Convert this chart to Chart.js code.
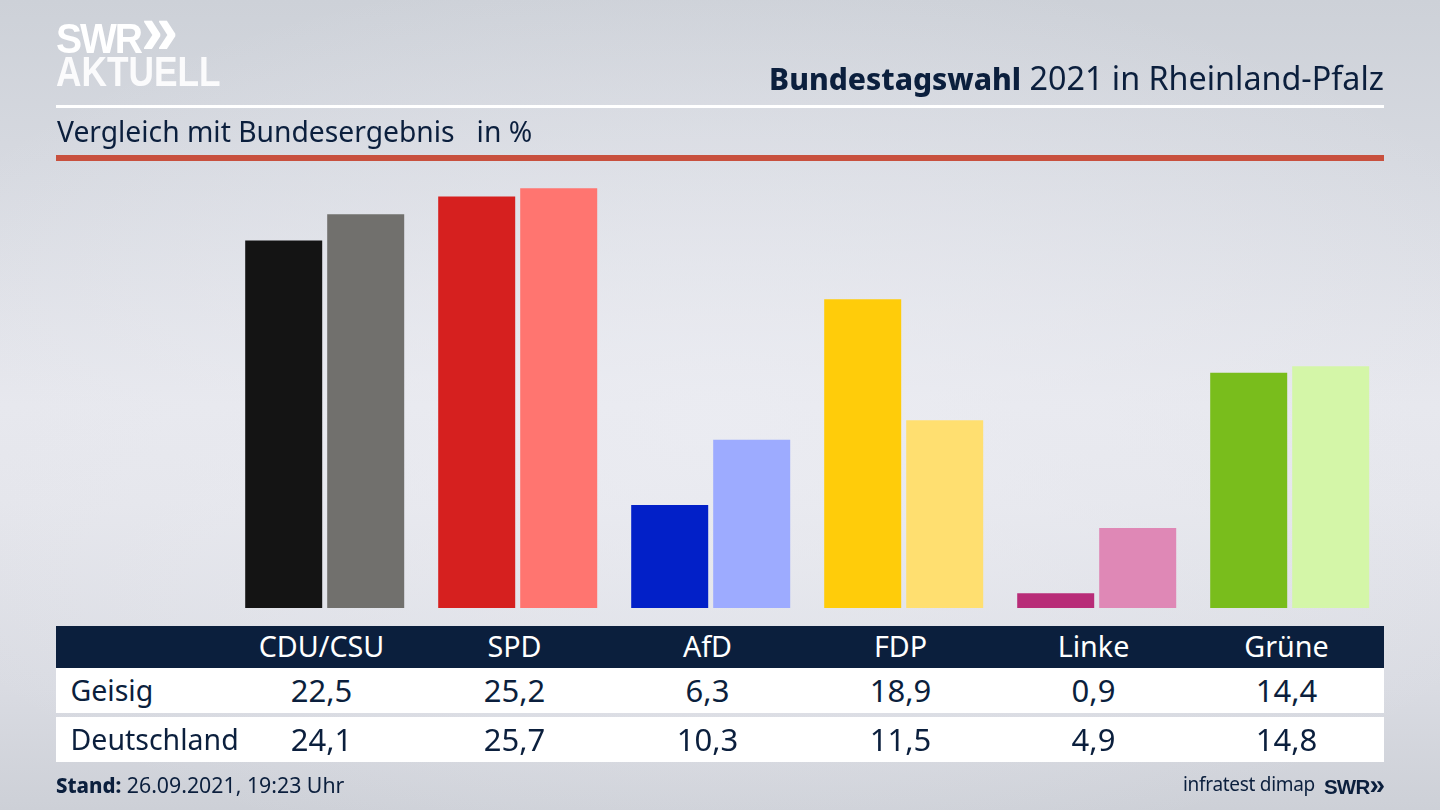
<!DOCTYPE html>
<html lang="de">
<head>
<meta charset="utf-8">
<title>Bundestagswahl 2021 in Rheinland-Pfalz</title>
<script src="https://cdn.jsdelivr.net/npm/chart.js@4"></script>
<style>
html,body{margin:0;padding:0;width:1440px;height:810px;overflow:hidden}
body{position:relative;font-family:"Noto Sans",sans-serif;color:#0b1f3d;
background:radial-gradient(ellipse 900px 460px at 50% 52%,rgba(236,237,243,.75) 0%,rgba(236,237,243,0) 100%),linear-gradient(180deg,#cdd1d8 0%,#d6d9e0 20%,#e6e7ed 50%,#e4e5eb 62%,#d9dbe2 85%,#cdd0d7 100%)}
canvas{position:absolute;left:0;top:0}
.t{position:absolute;white-space:nowrap;line-height:1}
.rule{position:absolute;left:56px;width:1328px}
.row{position:absolute;left:56px;width:1328px}
.cell{position:absolute;transform:translateX(-50%);white-space:nowrap;line-height:1}
</style>
</head>
<body>
<canvas id="c" width="1440" height="810"></canvas>
<div class="t" style="left:56px;top:13px;font:900 42px/1 'Liberation Sans';color:#fff;letter-spacing:-2.2px;transform:scaleX(.93);transform-origin:left">SWR<span style="font-size:72px;line-height:30px;position:relative;top:1px;letter-spacing:-2px">»</span></div>
<div class="t" style="left:56px;top:51px;font:700 42px/1 'Liberation Sans';color:#fbfbfc;transform:scaleX(.84);transform-origin:left">AKTUELL</div>
<div class="t" id="headline" style="right:56px;top:61px;font-size:32.3px"><b style="font-weight:800;font-size:30px">Bundestagswahl</b> 2021 in Rheinland-Pfalz</div>
<div class="rule" style="top:105px;height:3px;background:#fff"></div>
<div class="t" style="left:57px;top:117px;font-size:28.25px">Vergleich mit Bundesergebnis<span style="margin-left:22px">in %</span></div>
<div class="rule" style="top:155px;height:6px;background:#c8503e"></div>

<div class="row" id="head" style="top:626px;height:42px;background:#0b1f3d;color:#fff"></div>
<div class="row" id="r1" style="top:668px;height:45px;background:#fff"></div>
<div class="row" id="r2" style="top:717px;height:45px;background:#fff"></div>

<div class="t" style="left:56px;top:774px;font-size:21.3px"><b style="font-weight:800;font-size:20.4px">Stand:</b> 26.09.2021, 19:23 Uhr</div>
<div class="t" style="left:1183px;top:775px;font-size:19px;letter-spacing:-.3px">infratest dimap</div>
<div class="t" style="left:1324px;top:775px;font:700 20.5px/1 'Liberation Sans';letter-spacing:-.8px">SWR<span style="font-size:28px;line-height:20px;letter-spacing:-1px">»</span></div>

<script>
const categories = ["CDU/CSU", "SPD", "AfD", "FDP", "Linke", "Grüne"];
const rowNames = ["Geisig", "Deutschland"];
const geisig = [22.5, 25.2, 6.3, 18.9, 0.9, 14.4];
const deutschland = [24.1, 25.7, 10.3, 11.5, 4.9, 14.8];
const geisigColors = ["#141414", "#d6201f", "#0220c8", "#ffcc0a", "#b82c78", "#79bd1c"];
const deutschlandColors = ["#71706d", "#ff7570", "#9dabff", "#ffdf70", "#df88b6", "#d4f6a8"];

const fmt = v => v.toFixed(1).replace(".", ",");
const columnX = i => 321.5 + i * 193 - 56;

function fillRow(id, label, values, top, size, labelSize) {
  const row = document.getElementById(id);
  if (label) {
    const l = document.createElement("div");
    l.className = "t";
    l.style.cssText = `left:14.5px;top:${top + 1}px;font-size:${labelSize}px`;
    l.textContent = label;
    row.appendChild(l);
  }
  values.forEach((v, i) => {
    const d = document.createElement("div");
    d.className = "cell";
    d.style.cssText = `left:${columnX(i)}px;top:${top}px;font-size:${size}px`;
    d.textContent = v;
    row.appendChild(d);
  });
}
fillRow("head", "", categories, 6, 28.7, 28.5);
fillRow("r1", rowNames[0], geisig.map(fmt), 7, 31, 28.5);
fillRow("r2", rowNames[1], deutschland.map(fmt), 7, 31, 28.5);

new Chart(document.getElementById("c"), {
  type: "bar",
  data: {
    labels: categories,
    datasets: [
      { label: rowNames[0], data: geisig, backgroundColor: geisigColors, borderWidth: 0 },
      { label: rowNames[1], data: deutschland, backgroundColor: deutschlandColors, borderWidth: 0 }
    ]
  },
  options: {
    responsive: false,
    animation: false,
    devicePixelRatio: 1,
    categoryPercentage: 164 / 193,
    barPercentage: 77 / 82,
    layout: { padding: { left: 228.2, right: 53.8, top: 167, bottom: 202 } },
    plugins: { legend: { display: false }, title: { display: false }, tooltip: { enabled: false } },
    scales: {
      x: { display: false, offset: true, grid: { display: false } },
      y: { display: false, min: 0, max: 27, grid: { display: false } }
    }
  }
});
</script>
</body>
</html>
